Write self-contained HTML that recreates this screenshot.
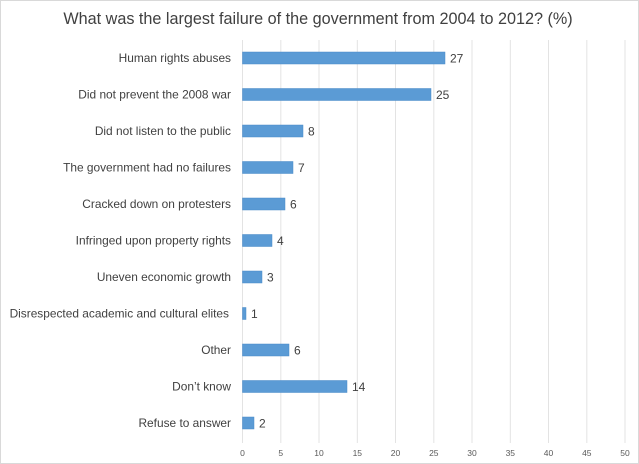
<!DOCTYPE html>
<html><head><style>
body{margin:0;background:#fff}
svg{display:block;font-family:"Liberation Sans",Calibri,sans-serif}
</style></head><body>
<svg width="639" height="464" viewBox="0 0 639 464">
<rect x="0.5" y="0.5" width="638" height="463" fill="#fff" stroke="#d9d9d9"/>
<text x="318" y="24" text-anchor="middle" font-size="16.2" fill="#404040">What was the largest failure of the government from 2004 to 2012? (%)</text>
<g stroke="#e3e3e3" stroke-width="1">
<line x1="242.5" y1="40" x2="242.5" y2="443"/>
<line x1="280.8" y1="40" x2="280.8" y2="443"/>
<line x1="319" y1="40" x2="319" y2="443"/>
<line x1="357.3" y1="40" x2="357.3" y2="443"/>
<line x1="395.5" y1="40" x2="395.5" y2="443"/>
<line x1="433.8" y1="40" x2="433.8" y2="443"/>
<line x1="472" y1="40" x2="472" y2="443"/>
<line x1="510.3" y1="40" x2="510.3" y2="443"/>
<line x1="548.5" y1="40" x2="548.5" y2="443"/>
<line x1="586.8" y1="40" x2="586.8" y2="443"/>
<line x1="625" y1="40" x2="625" y2="443"/>
</g>
<g font-size="8.5" fill="#595959" text-anchor="middle">
<text x="242.5" y="456">0</text><text x="280.8" y="456">5</text><text x="319" y="456">10</text><text x="357.3" y="456">15</text><text x="395.5" y="456">20</text><text x="433.8" y="456">25</text><text x="472" y="456">30</text><text x="510.3" y="456">35</text><text x="548.5" y="456">40</text><text x="586.8" y="456">45</text><text x="625" y="456">50</text>
</g>
<g fill="#5b9bd5" stroke="#4a8ac8" stroke-width="0.5">
<rect x="242.5" y="52" width="202.5" height="12"/>
<rect x="242.5" y="88.5" width="188.5" height="12"/>
<rect x="242.5" y="125" width="60.5" height="12"/>
<rect x="242.5" y="161.5" width="50.5" height="12"/>
<rect x="242.5" y="198" width="42.5" height="12"/>
<rect x="242.5" y="234.5" width="29.5" height="12"/>
<rect x="242.5" y="271" width="19.5" height="12"/>
<rect x="242.5" y="307.5" width="3.5" height="12"/>
<rect x="242.5" y="344" width="46.5" height="12"/>
<rect x="242.5" y="380.5" width="104.5" height="12"/>
<rect x="242.5" y="417" width="11.5" height="12"/>
</g>
<g font-size="12" fill="#404040">
<text x="450" y="62.5">27</text>
<text x="436" y="99">25</text>
<text x="308" y="135.5">8</text>
<text x="298" y="172">7</text>
<text x="290" y="208.5">6</text>
<text x="277" y="245">4</text>
<text x="267" y="281.5">3</text>
<text x="251" y="318">1</text>
<text x="294" y="354.5">6</text>
<text x="352" y="391">14</text>
<text x="259" y="427.5">2</text>
</g>
<g font-size="11.9" fill="#404040" text-anchor="end">
<text x="231" y="62">Human rights abuses</text>
<text x="231" y="98.5">Did not prevent the 2008 war</text>
<text x="231" y="135">Did not listen to the public</text>
<text x="231" y="171.5">The government had no failures</text>
<text x="231" y="208">Cracked down  on protesters</text>
<text x="231" y="244.5">Infringed upon property rights</text>
<text x="231" y="281">Uneven economic growth</text>
<text x="229" y="317.5">Disrespected academic and cultural elites</text>
<text x="231" y="354">Other</text>
<text x="231" y="390.5">Don’t know</text>
<text x="231" y="427">Refuse to answer</text>
</g>
</svg>
</body></html>
